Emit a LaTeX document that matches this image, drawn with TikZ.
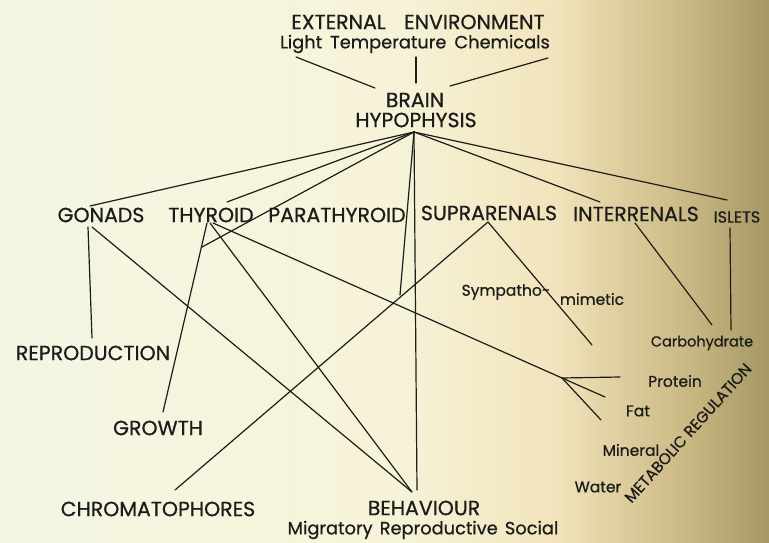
\documentclass[tikz,border=0pt]{standalone}
\usepackage{fontspec}
\setmainfont{Poppins}[FakeBold=0.7]
\definecolor{ink}{RGB}{28,28,26}
\definecolor{bgA}{RGB}{244,246,228}
\definecolor{bgB}{RGB}{246,243,216}
\definecolor{bgC}{RGB}{242,228,188}
\definecolor{bgD}{RGB}{205,188,135}
\definecolor{bgE}{RGB}{165,152,100}
\pgfdeclarehorizontalshading{paper}{100bp}{color(0bp)=(bgA); color(25bp)=(bgA); color(51bp)=(bgB); color(61bp)=(bgC); color(69bp)=(bgD); color(75bp)=(bgE); color(100bp)=(bgE)}
\tikzset{
  labcap/.style={font=\fontsize{20.5}{24}\selectfont, text=ink, inner sep=0pt},
  labcapsm/.style={font=\fontsize{16}{19}\selectfont, text=ink, inner sep=0pt},
  labmet/.style={font=\fontsize{15.5}{18}\selectfont, text=ink, inner sep=0pt},
  lablow/.style={font=\fontsize{17.8}{21}\selectfont, text=ink, inner sep=0pt},
  labsm/.style={font=\fontsize{15.5}{18}\selectfont, text=ink, inner sep=0pt},
  labxs/.style={font=\fontsize{14.5}{17}\selectfont, text=ink, inner sep=0pt},
  conn/.style={draw=ink, line width=1.2pt, line cap=round}
}
\begin{document}
\begin{tikzpicture}[x=1pt,y=-1pt]
\shade[shading=paper] (0,0) rectangle (769,543);
\useasboundingbox (0,0) rectangle (769,543);
% texts
\node[labcap] (ext) at (418,22) {EXTERNAL\hspace{0.9em}ENVIRONMENT};
\node[lablow] (env) at (415,44) {Light\hspace{0.45em}Temperature\hspace{0.45em}Chemicals};
\node[labcap] (brain) at (415,100) {BRAIN};
\node[labcap] (hyp) at (416,120) {HYPOPHYSIS};
\node[labcap] (gon) at (101,215) {GONADS};
\node[labcap] (thy) at (211,215) {THYROID};
\node[labcap] (par) at (337,215) {PARATHYROID};
\node[labcap] (sup) at (489,213) {SUPRARENALS};
\node[labcap] (int) at (636,214) {INTERRENALS};
\node[labcapsm] (isl) at (737,217) {ISLETS};
\node[labcap] (rep) at (93,353) {REPRODUCTION};
\node[labcap] (gro) at (158,428) {GROWTH};
\node[labcap] (chr) at (158,509) {CHROMATOPHORES};
\node[labcap] (beh) at (424,508) {BEHAVIOUR};
\node[lablow] (mrs) at (423,530) {Migratory\hspace{0.4em}Reproductive\hspace{0.4em}Social};
\node[labsm] (symp) at (506,292) {Sympatho-};
\node[labsm] (mim) at (592,299) {mimetic};
\node[labxs] (carb) at (702,343) {Carbohydrate};
\node[labsm] (prot) at (675,381) {Protein};
\node[labsm] (fat) at (638,411) {Fat};
\node[labsm] (min) at (631,450) {Mineral};
\node[labsm] (wat) at (598,487) {Water};
\node[labmet, rotate=48] (met) at (688,433) {METABOLIC REGULATION};
% connector end points
\coordinate (eL) at (296,57);  \coordinate (bL) at (375,88);
\coordinate (eM) at (416,57);  \coordinate (bM) at (416,83);
\coordinate (eR) at (548,58);  \coordinate (bR) at (450,86);
\coordinate (hub) at (414,132);
\coordinate (gonT) at (90,206);
\coordinate (thyT) at (227,202);
\coordinate (groJ) at (202,247);
\coordinate (chrJ) at (400,295);
\coordinate (behT) at (417,490);
\coordinate (behJ) at (412,492);
\coordinate (intT) at (600,202);
\coordinate (islT) at (727,200);
\coordinate (gonB1) at (88,227);  \coordinate (repT) at (92,338);
\coordinate (gonB2) at (92,227);
\coordinate (thyB1) at (207,223); \coordinate (groT) at (163,412);
\coordinate (thyB2) at (210,223);
\coordinate (thyB3) at (213,223); \coordinate (fan) at (562,378);
\coordinate (protE) at (620,377); \coordinate (fatE) at (605,397); \coordinate (minE) at (601,420);
\coordinate (supB) at (488,222); \coordinate (simE) at (592,345); \coordinate (chrT) at (175,490);
\coordinate (intB) at (635,223); \coordinate (carbT1) at (712,325);
\coordinate (islB) at (730,228); \coordinate (carbT2) at (731,330);
% connectors
\draw[conn] (eL) -- (bL);
\draw[conn] (eM) -- (bM);
\draw[conn] (eR) -- (bR);
\draw[conn] (hub) -- (gonT);
\draw[conn] (hub) -- (thyT);
\draw[conn] (hub) -- (groJ);
\draw[conn] (hub) -- (chrJ);
\draw[conn] (hub) -- (behT);
\draw[conn] (hub) -- (intT);
\draw[conn] (hub) -- (islT);
\draw[conn] (gonB1) -- (repT);
\draw[conn] (gonB2) -- (behJ);
\draw[conn] (thyB1) -- (groT);
\draw[conn] (thyB2) -- (behJ);
\draw[conn] (thyB3) -- (fan);
\draw[conn] (fan) -- (protE);
\draw[conn] (fan) -- (fatE);
\draw[conn] (fan) -- (minE);
\draw[conn] (supB) -- (simE);
\draw[conn] (supB) -- (chrT);
\draw[conn] (intB) -- (carbT1);
\draw[conn] (islB) -- (carbT2);
\end{tikzpicture}
\end{document}
